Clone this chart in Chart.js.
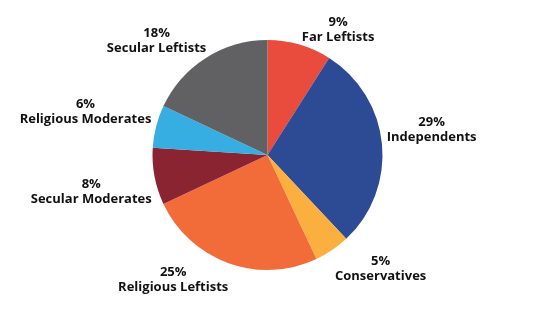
<!DOCTYPE html>
<html lang="en">
<head>
    <meta charset="UTF-8">
    <title>Groups</title>
    <script src="https://cdn.jsdelivr.net/npm/chart.js"></script>
    <style>
        html, body { margin: 0; padding: 0; background: #fff; }
        #wrap { width: 535px; height: 319px; position: relative; }
    </style>
</head>
<body>
    <div id="wrap"><canvas id="pie-chart"></canvas></div>
    <script>
        var groups = ['Far Leftists', 'Independents', 'Conservatives', 'Religious Leftists',
                      'Secular Moderates', 'Religious Moderates', 'Secular Leftists'];
        var shares = [9, 29, 5, 25, 8, 6, 18];

        var sliceColors = ['#E94B3D', '#2D4A95', '#FBAF3E', '#F26C3A', '#8B2431', '#36AEE2', '#616164'];
        // small hand nudges so the labels sit where the original put them
        var labelNudge = [[27, 4], [0, -12], [20, 2], [-35, -2], [1, 12], [-2, -10], [-20, 0]];

        var labelFont = 'bold 13px "Open Sans", sans-serif';

        var outsideLabels = {
            id: 'outsideLabels',
            afterDatasetsDraw: function(chart) {
                var ctx = chart.ctx;
                var meta = chart.getDatasetMeta(0);
                ctx.save();
                ctx.font = labelFont;
                ctx.fillStyle = '#111';
                ctx.textAlign = 'center';
                ctx.textBaseline = 'middle';
                meta.data.forEach(function(arc, i) {
                    var mid = (arc.startAngle + arc.endAngle) / 2;
                    var ux = Math.cos(mid), uy = Math.sin(mid);
                    var top = shares[i] + '%';
                    var bottom = groups[i];
                    var w = Math.max(ctx.measureText(top).width, ctx.measureText(bottom).width);
                    var h = 30;
                    var px = arc.x + (arc.outerRadius + 5) * ux;
                    var py = arc.y + (arc.outerRadius + 5) * uy;
                    var cx = px + ux * w / 2 + labelNudge[i][0];
                    var cy = py + uy * h / 2 + labelNudge[i][1];
                    ctx.fillText(top, cx, cy - 7.5);
                    ctx.fillText(bottom, cx, cy + 7.5);
                });
                ctx.restore();
            }
        };

        var ctx = document.getElementById('pie-chart').getContext('2d');
        var pieChart = new Chart(ctx, {
            type: 'pie',
            data: {
                labels: groups,
                datasets: [{
                    data: shares,
                    backgroundColor: sliceColors,
                    borderWidth: 0,
                    hoverOffset: 0
                }]
            },
            options: {
                responsive: true,
                maintainAspectRatio: false,
                animation: false,
                layout: { padding: { top: 40, bottom: 49, left: 0, right: 0 } },
                plugins: {
                    legend: { display: false },
                    tooltip: { enabled: false }
                }
            },
            plugins: [outsideLabels]
        });
    </script>
</body>
</html>
